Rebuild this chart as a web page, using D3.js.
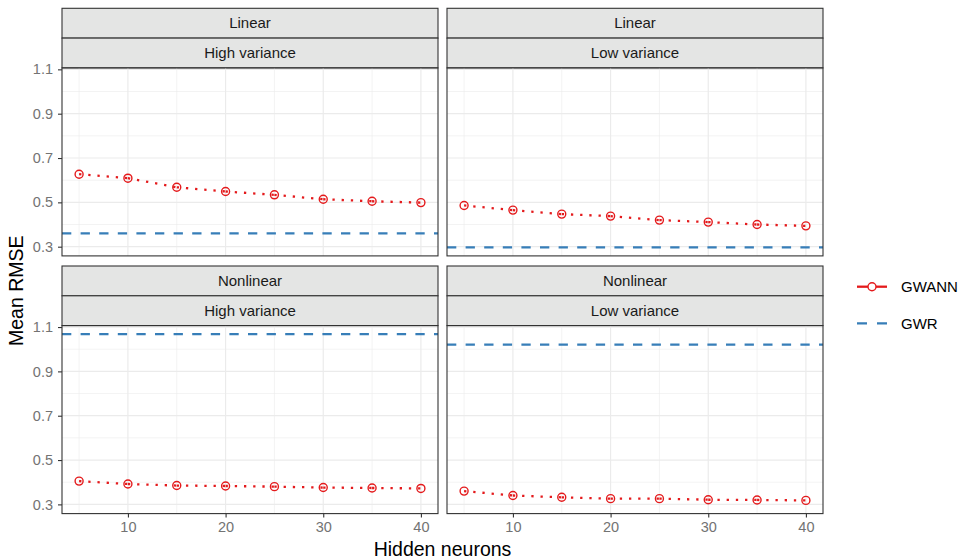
<!DOCTYPE html>
<html>
<head>
<meta charset="utf-8">
<script src="https://cdn.jsdelivr.net/npm/d3@7"></script>
<style>
  body { margin: 0; background: #fff; }
  svg { display: block; font-family: "Liberation Sans", Arial, sans-serif; }
</style>
</head>
<body>
<svg id="chart" width="963" height="560"></svg>
<script>
// Data
var neurons = [5, 10, 15, 20, 25, 30, 35, 40];
var structures = ["Linear", "Nonlinear"];
var variances = ["High variance", "Low variance"];
var gwannLinearHigh = [0.627, 0.609, 0.568, 0.549, 0.534, 0.514, 0.505, 0.499];
var gwannLinearLow = [0.486, 0.465, 0.447, 0.438, 0.420, 0.411, 0.400, 0.394];
var gwannNonlinearHigh = [0.405, 0.392, 0.385, 0.383, 0.380, 0.376, 0.374, 0.372];
var gwannNonlinearLow = [0.360, 0.340, 0.332, 0.326, 0.326, 0.321, 0.320, 0.318];
var gwrValues = [0.360, 0.297, 1.068, 1.021]; // LinHigh, LinLow, NonHigh, NonLow
var yTicks = [0.3, 0.5, 0.7, 0.9, 1.1];
var yMinor = [0.4, 0.6, 0.8, 1.0];
var xTicks = [10, 20, 30, 40];
var xMinor = [5, 15, 25, 35];

var red = "#e41a1c", blue = "#377eb8";

var panels = [
  {structure: structures[0], variance: variances[0], gwann: gwannLinearHigh, gwr: gwrValues[0]},
  {structure: structures[0], variance: variances[1], gwann: gwannLinearLow, gwr: gwrValues[1]},
  {structure: structures[1], variance: variances[0], gwann: gwannNonlinearHigh, gwr: gwrValues[2]},
  {structure: structures[1], variance: variances[1], gwann: gwannNonlinearLow, gwr: gwrValues[3]}
];

var svg = d3.select("#chart");

var colX = [62, 447], panelW = 376;
var rowY = [8.3, 266], stripH = 29.8, panelH = 188;

// shared (fixed) scales, ggplot style 5% expansion
var allY = gwrValues.concat(gwannLinearHigh, gwannLinearLow, gwannNonlinearHigh, gwannNonlinearLow);
var yExt = d3.extent(allY), yPad = (yExt[1] - yExt[0]) * 0.05;
var xExt = d3.extent(neurons), xPad = (xExt[1] - xExt[0]) * 0.05;

var x = d3.scaleLinear().domain([xExt[0] - xPad, xExt[1] + xPad]).range([0, panelW]);
var y = d3.scaleLinear().domain([yExt[0] - yPad, yExt[1] + yPad]).range([panelH, 0]);

panels.forEach(function(p, i) {
  var col = i % 2, row = Math.floor(i / 2);
  var g = svg.append("g")
    .attr("transform", "translate(" + colX[col] + "," + rowY[row] + ")");

  // strips
  [p.structure, p.variance].forEach(function(lab, k) {
    g.append("rect")
      .attr("x", 0).attr("y", k * stripH)
      .attr("width", panelW).attr("height", stripH)
      .attr("fill", "#e4e5e4").attr("stroke", "#333").attr("stroke-width", 1.1);
    g.append("text")
      .attr("x", panelW / 2).attr("y", k * stripH + stripH / 2)
      .attr("dy", "0.35em")
      .attr("text-anchor", "middle")
      .attr("font-size", 15).attr("fill", "#1a1a1a")
      .text(lab);
  });

  var pg = g.append("g").attr("transform", "translate(0," + (2 * stripH) + ")");

  // grid
  pg.selectAll(".ymin").data(yMinor).enter().append("line")
    .attr("x1", 0).attr("x2", panelW)
    .attr("y1", function(d) { return y(d); }).attr("y2", function(d) { return y(d); })
    .attr("stroke", "#ebebeb").attr("stroke-width", 0.6);
  pg.selectAll(".xmin").data(xMinor).enter().append("line")
    .attr("y1", 0).attr("y2", panelH)
    .attr("x1", function(d) { return x(d); }).attr("x2", function(d) { return x(d); })
    .attr("stroke", "#ebebeb").attr("stroke-width", 0.6);
  pg.selectAll(".ymaj").data(yTicks).enter().append("line")
    .attr("x1", 0).attr("x2", panelW)
    .attr("y1", function(d) { return y(d); }).attr("y2", function(d) { return y(d); })
    .attr("stroke", "#ebebeb").attr("stroke-width", 1.2);
  pg.selectAll(".xmaj").data(xTicks).enter().append("line")
    .attr("y1", 0).attr("y2", panelH)
    .attr("x1", function(d) { return x(d); }).attr("x2", function(d) { return x(d); })
    .attr("stroke", "#ebebeb").attr("stroke-width", 1.2);

  // GWR reference line
  pg.append("line")
    .attr("x1", 0).attr("x2", panelW)
    .attr("y1", y(p.gwr)).attr("y2", y(p.gwr))
    .attr("stroke", blue).attr("stroke-width", 2.3)
    .attr("stroke-dasharray", "9.3,9.3");

  // GWANN dotted line, segment by segment
  var pts = neurons.map(function(n, j) { return [n, p.gwann[j]]; });
  pg.selectAll(".seg").data(d3.pairs(pts)).enter().append("line")
    .attr("x1", function(d) { return x(d[0][0]); })
    .attr("y1", function(d) { return y(d[0][1]); })
    .attr("x2", function(d) { return x(d[1][0]); })
    .attr("y2", function(d) { return y(d[1][1]); })
    .attr("stroke", red).attr("stroke-width", 2.3)
    .attr("stroke-dasharray", "2.3,6.9");

  pg.selectAll(".pt").data(pts).enter().append("circle")
    .attr("cx", function(d) { return x(d[0]); })
    .attr("cy", function(d) { return y(d[1]); })
    .attr("r", 4)
    .attr("fill", "none").attr("stroke", red).attr("stroke-width", 1.4);

  // panel border
  pg.append("rect")
    .attr("width", panelW).attr("height", panelH)
    .attr("fill", "none").attr("stroke", "#333").attr("stroke-width", 1.1);

  // axes
  if (col === 0) {
    var ya = pg.append("g").call(d3.axisLeft(y).tickValues(yTicks).tickSize(4).tickPadding(5).tickFormat(d3.format(".1f")));
    ya.select(".domain").remove();
    ya.selectAll(".tick line").attr("stroke", "#333").attr("stroke-width", 1.1);
    ya.selectAll(".tick text").attr("font-size", 14.5).attr("fill", "#737373").attr("font-family", "Liberation Sans, Arial, sans-serif");
  }
  if (row === 1) {
    var xa = pg.append("g").attr("transform", "translate(0," + panelH + ")")
      .call(d3.axisBottom(x).tickValues(xTicks).tickSize(4).tickPadding(4));
    xa.select(".domain").remove();
    xa.selectAll(".tick line").attr("stroke", "#333").attr("stroke-width", 1.1);
    xa.selectAll(".tick text").attr("font-size", 14.5).attr("fill", "#737373").attr("font-family", "Liberation Sans, Arial, sans-serif");
  }
});

// axis titles
svg.append("text")
  .attr("x", (colX[0] + colX[1] + panelW) / 2).attr("y", 556)
  .attr("text-anchor", "middle").attr("font-size", 19.5).attr("fill", "#000")
  .text("Hidden neurons");
svg.append("text")
  .attr("transform", "translate(23," + ((rowY[0] + 2 * stripH + rowY[1] + 2 * stripH + panelH) / 2) + ") rotate(-90)")
  .attr("text-anchor", "middle").attr("font-size", 19.5).attr("fill", "#000")
  .text("Mean RMSE");

// legend
var leg = svg.append("g").attr("transform", "translate(857,0)");
var g1 = leg.append("g").attr("transform", "translate(0,286.7)");
g1.append("line").attr("x1", 0).attr("x2", 30).attr("stroke", red).attr("stroke-width", 2.3);
g1.append("circle").attr("cx", 15).attr("r", 4).attr("fill", "#fff").attr("stroke", red).attr("stroke-width", 1.4);
g1.append("text").attr("x", 44).attr("dy", "0.35em").attr("font-size", 15).text("GWANN");
var g2 = leg.append("g").attr("transform", "translate(0,323.3)");
g2.append("line").attr("x1", 0).attr("x2", 30).attr("stroke", blue).attr("stroke-width", 2.3).attr("stroke-dasharray", "10,10");
g2.append("text").attr("x", 44).attr("dy", "0.35em").attr("font-size", 15).text("GWR");
</script>
</body>
</html>
